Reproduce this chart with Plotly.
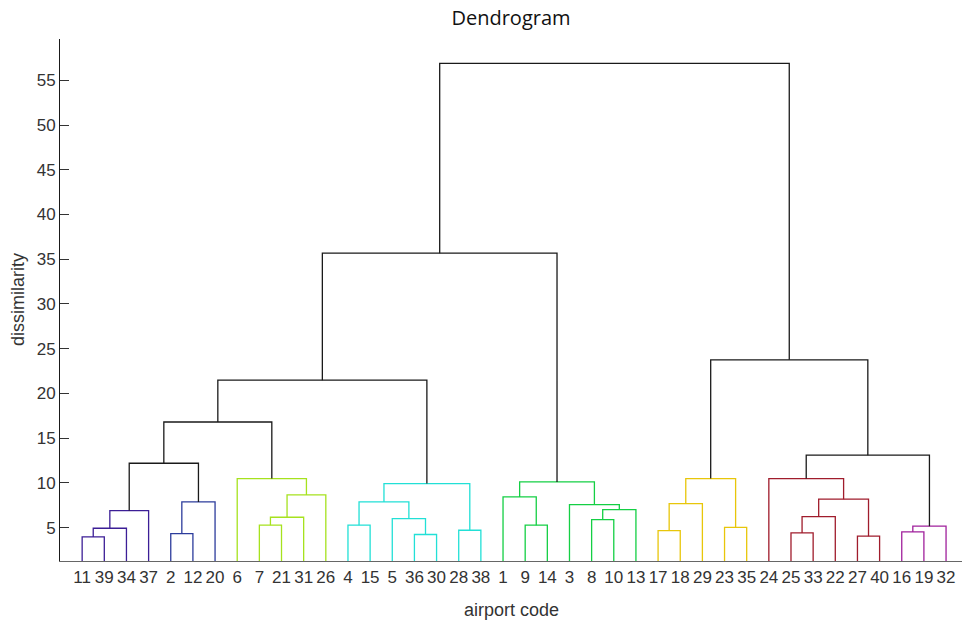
import plotly.graph_objects as go

# ---- data (MATLAB-style linkage: leaves 1..40, cluster from row k is node 40+k) ----
n_leaves = 40
link_left = [11, 27, 36, 2, 25, 16, 17, 28, 41, 23, 46, 4, 7, 9, 8, 5, 53, 45, 49, 55,
             3, 47, 44, 52, 58, 1, 57, 64, 66, 6, 62, 24, 59, 72, 73, 75, 71, 76, 78]
link_right = [39, 40, 30, 12, 33, 19, 18, 38, 34, 35, 32, 15, 21, 14, 10, 43, 31, 22, 37, 13,
              60, 29, 20, 56, 42, 54, 26, 48, 61, 67, 50, 65, 63, 51, 70, 68, 74, 69, 77]
link_height = [3.95, 4.03, 4.22, 4.33, 4.40, 4.51, 4.66, 4.70, 4.92, 5.03, 5.15, 5.26, 5.26,
               5.26, 5.89, 6.00, 6.15, 6.23, 6.90, 7.01, 7.57, 7.68, 7.87, 7.87, 8.17, 8.42,
               8.65, 9.92, 10.10, 10.48, 10.48, 10.48, 12.19, 13.09, 16.80, 21.48, 23.75,
               35.68, 56.90]
color_threshold = 12.0
group_colors = ["#3c1e96", "#2c3c9c", "#a6e21e", "#22e0d6", "#14cf44", "#e8c60a",
                "#a01c2c", "#a0209c"]
above_color = "#1a1a1a"
y_ticks = [5, 10, 15, 20, 25, 30, 35, 40, 45, 50, 55]

# ---- tree layout ----
n_links = len(link_height)
root = n_leaves + n_links
children = {n_leaves + k + 1: (link_left[k], link_right[k]) for k in range(n_links)}
height = {n_leaves + k + 1: link_height[k] for k in range(n_links)}

leaf_order = []
def walk(node):
    if node <= n_leaves:
        leaf_order.append(node)
    else:
        a, b = children[node]
        walk(a)
        walk(b)
walk(root)

xpos = {leaf: i + 1 for i, leaf in enumerate(leaf_order)}
def get_x(node):
    if node in xpos:
        return xpos[node]
    a, b = children[node]
    xpos[node] = (get_x(a) + get_x(b)) / 2.0
    return xpos[node]
get_x(root)

def h(node):
    return 0.0 if node <= n_leaves else height[node]

# colour groups: maximal subtrees below threshold, numbered left to right
node_color = {}
group_counter = [0]
def assign(node, col):
    if node <= n_leaves:
        return
    if col is None and height[node] < color_threshold:
        col = group_colors[group_counter[0] % len(group_colors)]
        group_counter[0] += 1
    node_color[node] = col if col is not None else above_color
    a, b = children[node]
    assign(a, col)
    assign(b, col)
assign(root, None)

segs = {}
for node in range(n_leaves + 1, root + 1):
    a, b = children[node]
    xs = [get_x(a), get_x(a), get_x(b), get_x(b), None]
    ys = [h(a), h(node), h(node), h(b), None]
    c = node_color[node]
    segs.setdefault(c, ([], []))
    segs[c][0].extend(xs)
    segs[c][1].extend(ys)

fig = go.Figure()
for c, (xs, ys) in segs.items():
    fig.add_trace(go.Scatter(x=xs, y=ys, mode="lines", line=dict(color=c, width=1.3),
                             hoverinfo="skip", showlegend=False))

font_main = "Liberation Sans, Arial, sans-serif"
fig.update_layout(
    width=962, height=624,
    margin=dict(l=60, r=0, t=39, b=63),
    paper_bgcolor="white", plot_bgcolor="white",
    title=dict(text="Dendrogram", x=0.5, xref="paper", y=1 - 18 / 624, yref="container",
               xanchor="center", yanchor="middle",
               font=dict(family="Open Sans, sans-serif", size=20, color="#111")),
    xaxis=dict(range=[0, 40.72], tickmode="array",
               tickvals=[xpos[l] for l in leaf_order],
               ticktext=[str(l) for l in leaf_order],
               showline=True, linecolor="#666", linewidth=1,
               ticks="outside", ticklen=1, tickcolor="rgba(0,0,0,0)",
               showgrid=False, zeroline=False,
               tickfont=dict(family=font_main, size=17, color="#333")),
    yaxis=dict(range=[1.26, 59.62], tickmode="array", tickvals=y_ticks,
               ticks="inside", ticklen=9, tickcolor="#333", tickwidth=1,
               showline=True, linecolor="#1a1a1a", linewidth=1,
               showgrid=False, zeroline=False,
               tickfont=dict(family=font_main, size=17, color="#333")),
    annotations=[
        dict(text="airport code", xref="paper", yref="paper", x=0.5, y=-49 / 522,
             xanchor="center", yanchor="middle", showarrow=False,
             font=dict(family=font_main, size=18, color="#333")),
        dict(text="dissimilarity", xref="paper", yref="paper", x=(18 - 60) / 902, y=0.5,
             xanchor="center", yanchor="middle", textangle=-90, showarrow=False,
             font=dict(family=font_main, size=18, color="#333")),
    ],
)

fig.write_html("out.html")
